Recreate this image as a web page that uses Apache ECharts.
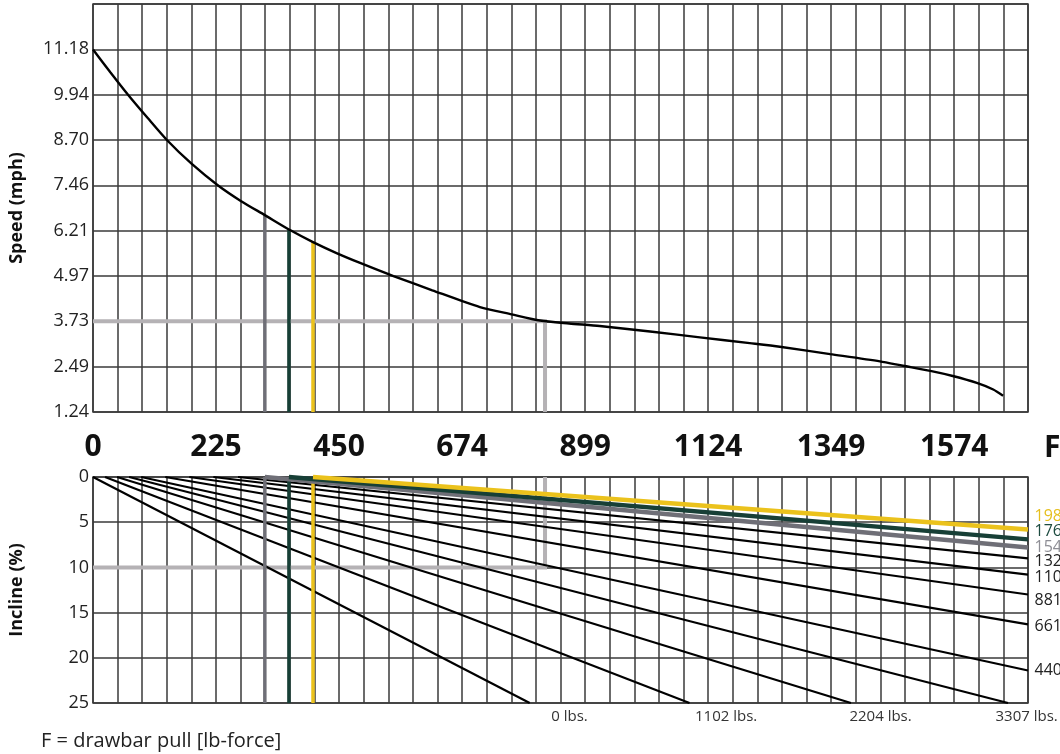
<!DOCTYPE html>
<html><head><meta charset="utf-8">
<script src="https://cdn.jsdelivr.net/npm/echarts@6/dist/echarts.min.js"></script>
<style>html,body{margin:0;padding:0;background:#fff}#c{width:1060px;height:754px}</style>
</head><body><div id="c"></div>
<script>
// ---- data ----
const LBF_PER_CELL = 44.9618;      // grid cell width in lb-force (200 N)
const FORCE_MAX = 1708.5484;       // right edge of both plots (38 cells)
const SPEED_STEP = 1.24274;        // speed grid step (mph)
const SPEED_MAX = 12.4274;
const INCLINE_MAX = 25;

// speed vs drawbar pull curve (lbf, mph)
const speedCurveF   = [0, 32, 64, 100, 135, 180, 228, 270, 314, 360, 402, 445, 488, 549, 620, 707, 765, 817, 870, 926, 1018, 1109, 1200, 1255, 1347, 1438, 1480, 1530, 1571, 1615, 1645, 1663];
const speedCurveMph = [11.18, 10.55, 9.94, 9.30, 8.70, 8.05, 7.46, 7.03, 6.64, 6.23, 5.90, 5.60, 5.33, 4.97, 4.58, 4.12, 3.92, 3.75, 3.67, 3.60, 3.45, 3.29, 3.13, 3.03, 2.83, 2.63, 2.51, 2.37, 2.23, 2.04, 1.86, 1.69];

// incline lines per trailer load
const loadLabels     = ['0 lbs.', '1102 lbs.', '2204 lbs.', '3307 lbs.', '4409 lbs.', '6614 lbs.', '8818 lbs.', '11023 lbs.', '13228 lbs.', '15432 lbs.', '17637 lbs.', '19842 lbs.'];
const inclineStartF  = [0, 22, 44, 66, 88, 132, 176, 220, 265, 314, 358, 402];
const inclineEndF    = [798, 1090, 1385, 1672, 1708.5484, 1708.5484, 1708.5484, 1708.5484, 1708.5484, 1708.5484, 1708.5484, 1708.5484];
const inclineEndPct  = [25, 25, 25, 25, 21.4, 16.3, 13.0, 10.8, 9.0, 7.8, 6.9, 5.8];

// highlighted loads (grey, green, yellow): rolling-resistance pull and speed reached
const markerForce = [314, 358, 402];
const markerSpeed = [6.64, 6.25, 5.90];

// worked example
const exampleForce = 826;
const exampleSpeed = 3.73;
const exampleIncline = 10;

// ---- styles ----
const GRID_COLOR = '#3a3a3a';
const FONT = '"Open Sans", "Noto Sans", sans-serif';
const lineColors = ['#000','#000','#000','#000','#000','#000','#000','#000','#000','#6f6f77','#173f36','#ebc21c'];
const labelColors = ['#333','#333','#333','#333','#222','#222','#222','#222','#222','#8e8e95','#1d4b40','#e6bf1f'];
const lineWidths = [2.2,2.2,2.2,2.2,2.2,2.2,2.2,2.2,2.2,4.5,4.5,4.5];
const labelOffsets = [[21,14],[5,14],[-2,14],[-13,14],[6,0],[6,2],[6,6],[6,3],[6,3],[6,0],[6,-8],[6,-13]];
const labelSizes = [15,15,15,15,16,16,16,16,16,16,16,16];
const markerColors = ['#6f6f77', '#173f36', '#ebc21c'];
const EXAMPLE_COLOR = '#b5b2b5';

const chart = echarts.init(document.getElementById('c'), null, {renderer: 'canvas'});

function xAxisCfg(gridIndex, showLabels) {
  return {
    type: 'value', gridIndex, min: 0, max: FORCE_MAX, interval: LBF_PER_CELL,
    axisLine: {show: false}, axisTick: {show: false},
    splitLine: {show: true, lineStyle: {color: GRID_COLOR, width: 1.5}},
    axisLabel: {
      show: showLabels, margin: 20, color: '#111', fontFamily: FONT, fontWeight: 'bold', fontSize: 30,
      formatter: v => { const k = Math.round(v / LBF_PER_CELL); return (k % 5 === 0 && k < 38) ? String(Math.round(v)) : ''; }
    }
  };
}

const series = [];
// top plot
series.push({type: 'line', xAxisIndex: 0, yAxisIndex: 0, showSymbol: false, clip: false, z: 3,
  data: [[0, exampleSpeed], [exampleForce, exampleSpeed], [exampleForce, SPEED_STEP]],
  lineStyle: {color: EXAMPLE_COLOR, width: 4, join: 'miter'}});
markerForce.forEach((f, i) => series.push({type: 'line', xAxisIndex: 0, yAxisIndex: 0, showSymbol: false, clip: false, z: 4,
  data: [[f, markerSpeed[i]], [f, SPEED_STEP]], lineStyle: {color: markerColors[i], width: 3.5}}));
series.push({type: 'line', xAxisIndex: 0, yAxisIndex: 0, showSymbol: false, clip: false, z: 5,
  smooth: 0.25,
  data: speedCurveF.map((f, i) => [f, speedCurveMph[i]]), lineStyle: {color: '#000', width: 2.4}});

// bottom plot
series.push({type: 'line', xAxisIndex: 1, yAxisIndex: 1, showSymbol: false, clip: false, z: 3,
  data: [[0, exampleIncline], [exampleForce, exampleIncline], [exampleForce, 0]],
  lineStyle: {color: EXAMPLE_COLOR, width: 4, join: 'miter'}});
loadLabels.forEach((name, i) => {
  const colored = i >= 9;
  series.push({type: 'line', xAxisIndex: 1, yAxisIndex: 1, clip: false, z: colored ? 7 : 5,
    symbol: 'circle', symbolSize: 1, showSymbol: true,
    itemStyle: {color: 'rgba(0,0,0,0)', borderWidth: 0},
    lineStyle: {color: lineColors[i], width: lineWidths[i]},
    data: [[inclineStartF[i], 0], {value: [inclineEndF[i], inclineEndPct[i]], label: {
      show: true, formatter: name, position: 'right', distance: 0, align: 'left', verticalAlign: 'middle',
      offset: labelOffsets[i], color: labelColors[i], fontSize: labelSizes[i], fontFamily: FONT
    }}]
  });
});
markerForce.forEach((f, i) => series.push({type: 'line', xAxisIndex: 1, yAxisIndex: 1, showSymbol: false, clip: false, z: 6,
  data: [[f, 0], [f, INCLINE_MAX]], lineStyle: {color: markerColors[i], width: 3.5}}));

chart.setOption({
  animation: false,
  backgroundColor: '#fff',
  grid: [
    {left: 93, top: 4, right: 32, height: 408, show: true, borderColor: GRID_COLOR, borderWidth: 1.5, containLabel: false, outerBoundsMode: 'none'},
    {left: 93, top: 477, right: 32, height: 226, show: true, borderColor: GRID_COLOR, borderWidth: 1.5, containLabel: false, outerBoundsMode: 'none'}
  ],
  xAxis: [xAxisCfg(0, true), xAxisCfg(1, false)],
  yAxis: [
    {type: 'value', gridIndex: 0, min: SPEED_STEP, max: SPEED_MAX, interval: SPEED_STEP,
      name: 'Speed (mph)', nameLocation: 'middle', nameGap: 67, nameRotate: 90,
      nameTextStyle: {fontFamily: FONT, fontWeight: 'bold', fontSize: 18, color: '#111'},
      axisLine: {show: false}, axisTick: {show: false},
      splitLine: {show: true, lineStyle: {color: GRID_COLOR, width: 1.5}},
      axisLabel: {margin: 4, color: '#222', fontFamily: FONT, fontSize: 18,
        formatter: v => v > 12 ? '' : v.toFixed(2)}},
    {type: 'value', gridIndex: 1, min: 0, max: INCLINE_MAX, interval: 5, inverse: true,
      name: 'Incline (%)', nameLocation: 'middle', nameGap: 67, nameRotate: 90,
      nameTextStyle: {fontFamily: FONT, fontWeight: 'bold', fontSize: 18, color: '#111'},
      axisLine: {show: false}, axisTick: {show: false},
      splitLine: {show: true, lineStyle: {color: GRID_COLOR, width: 1.5}},
      axisLabel: {margin: 4, color: '#222', fontFamily: FONT, fontSize: 18}}
  ],
  graphic: [
    {type: 'text', left: 1044, top: 433, style: {text: 'F', font: 'bold 30px ' + FONT, fill: '#111'}},
    {type: 'text', left: 41, top: 731, style: {text: 'F = drawbar pull [lb-force]', font: '20px ' + FONT, fill: '#222'}}
  ],
  series
});
</script></body></html>
